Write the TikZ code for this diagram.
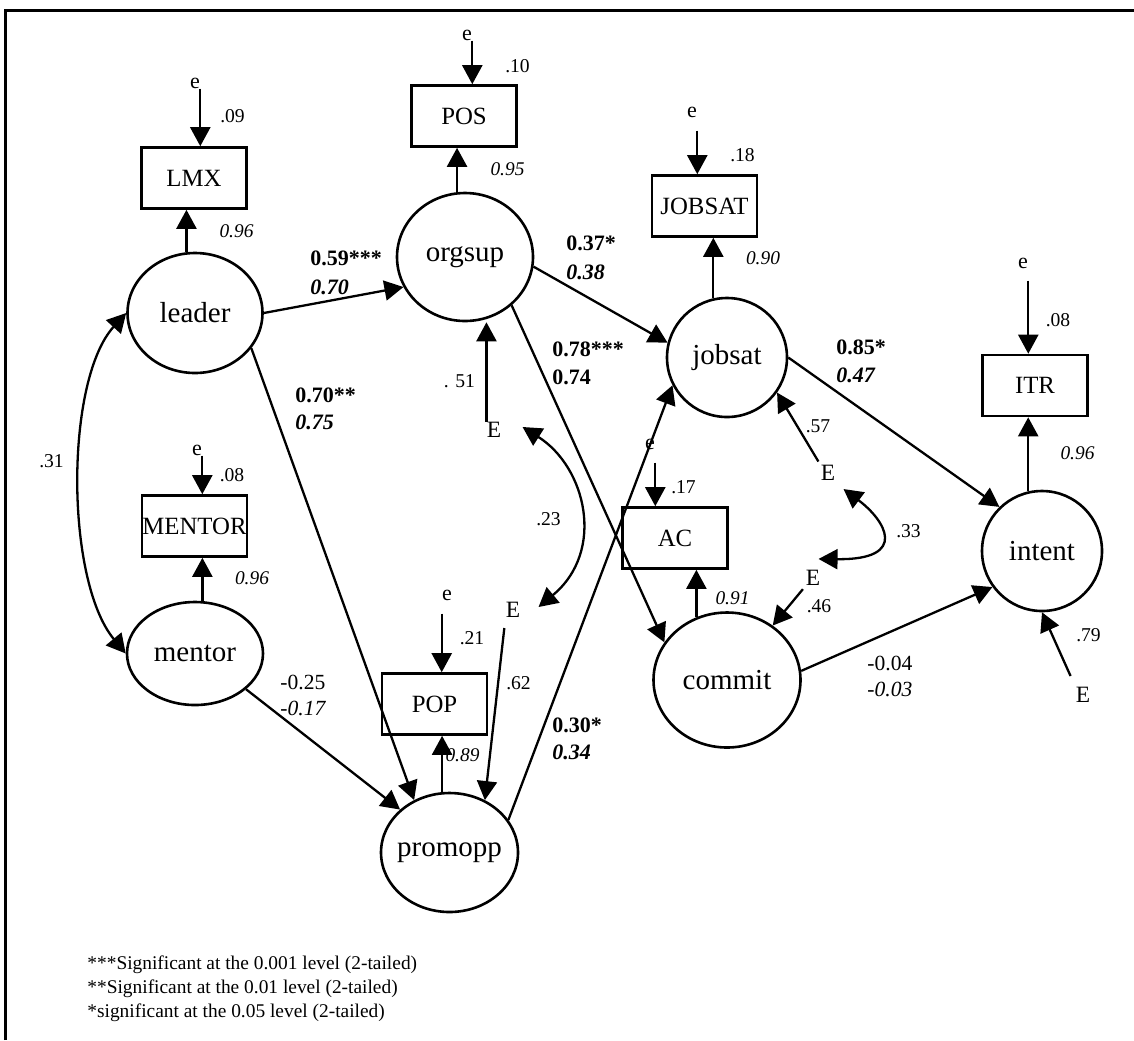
\documentclass[tikz,border=0pt]{standalone}
\usepackage{fontspec}
\setmainfont{Liberation Serif}
\usetikzlibrary{arrows.meta,shapes.geometric}

\tikzset{
    latent/.style={ellipse, draw, line width=1.3pt, inner sep=0pt},
    lbl/.style={inner sep=0pt, font=\fontsize{14.5}{17}\selectfont},
    manifest/.style={rectangle, draw, line width=1.3pt, inner sep=0pt,
        minimum width=52.5pt, minimum height=30.5pt, font=\fontsize{12.4}{15}\selectfont},
    err/.style={inner sep=0pt, font=\fontsize{11}{13}\selectfont},
    dist/.style={inner sep=0pt, font=\fontsize{11.7}{14}\selectfont},
    arr/.style={-{Triangle[length=9.5pt,width=10pt]}, line width=1.15pt},
    both/.style={{Triangle[length=9.5pt,width=10pt]}-{Triangle[length=9.5pt,width=10pt]}, line width=1.15pt},
    num/.style={inner sep=0pt, font=\fontsize{9.8}{12}\selectfont},
    load/.style={inner sep=0pt, font=\fontsize{9.7}{12}\selectfont\itshape},
    coef/.style={inner sep=0pt, anchor=west, align=left, font=\fontsize{11}{14.5}\selectfont\bfseries},
    plain/.style={inner sep=0pt, anchor=west, align=left, font=\fontsize{10.8}{13}\selectfont},
    note/.style={inner sep=0pt, anchor=west, align=left, font=\fontsize{9.7}{12}\selectfont}
}

\begin{document}
\begin{tikzpicture}[x=0.5pt, y=-0.5pt]
    \useasboundingbox (0,0) rectangle (1134,1040);
    % frame
    \draw[line width=1.5pt] (5,1040) -- (5,10) -- (1134,10);

    % latent variables
    \node[latent, minimum width=67.5pt, minimum height=60pt, label={[lbl]center:leader}] (leader) at (195,313) {};
    \node[latent, minimum width=68pt, minimum height=64pt, label={[lbl]center:orgsup}] (orgsup) at (465,257) {};
    \node[latent, minimum width=68pt, minimum height=51.5pt, label={[lbl]center:mentor}] (mentor) at (195,653.5) {};
    \node[latent, minimum width=68.5pt, minimum height=59.5pt, label={[lbl]center:promopp}] (promopp) at (449.5,852.5) {};
    \node[latent, minimum width=60pt, minimum height=59.5pt, label={[lbl]center:jobsat}] (jobsat) at (727,357.5) {};
    \node[latent, minimum width=73.5pt, minimum height=67.5pt, label={[lbl]center:commit}] (commit) at (727,680) {};
    \node[latent, minimum width=60pt, minimum height=60pt, label={[lbl]center:intent}] (intent) at (1042,551) {};

    % indicators
    \node[manifest] (LMX) at (194,178) {LMX};
    \node[manifest] (POS) at (464,116) {POS};
    \node[manifest] (JOBSAT) at (704.5,206) {JOBSAT};
    \node[manifest] (ITR) at (1035,385.5) {ITR};
    \node[manifest] (AC) at (675,538) {AC};
    \node[manifest] (MENTOR) at (194.5,526) {MENTOR};
    \node[manifest] (POP) at (434.5,704) {POP};

    % error terms
    \node[err] (eLMX) at (195,83) {e};
    \node[err] (ePOS) at (467,35) {e};
    \node[err] (eJOBSAT) at (692,112) {e};
    \node[err] (eITR) at (1023,263) {e};
    \node[err] (eAC) at (650,444) {e};
    \node[err] (eMENTOR) at (197,450) {e};
    \node[err] (ePOP) at (447,595) {e};

    \node[dist] (Eorg) at (494,430) {E};
    \node[dist] (Epro) at (513,610) {E};
    \node[dist] (Ejob) at (828,473) {E};
    \node[dist] (Ecom) at (813,578) {E};
    \node[dist] (Eint) at (1083,695) {E};

    % measurement paths
    \draw[arr] (leader.98) -- (leader.98 |- LMX.south);
    \draw[arr] (orgsup.97) -- (orgsup.97 |- POS.south);
    \draw[arr] (jobsat.103) -- (jobsat.103 |- JOBSAT.south);
    \draw[arr] (intent.103) -- (intent.103 |- ITR.south);
    \draw[arr] (commit.116) -- (commit.116 |- AC.south);
    \draw[arr] (mentor.82) -- (mentor.82 |- MENTOR.south);
    \draw[arr] (promopp.97) -- (promopp.97 |- POP.south);

    \draw[arr] (eLMX.south east) -- (eLMX.south east |- LMX.north);
    \draw[arr] (ePOS.south east) -- (ePOS.south east |- POS.north);
    \draw[arr] (eMENTOR.south east) -- (eMENTOR.south east |- MENTOR.north);
    \draw[arr, shorten <=6.5pt] (eJOBSAT.south east) -- (eJOBSAT.south east |- JOBSAT.north);
    \draw[arr, shorten <=6pt] (eITR.south east) -- (eITR.south east |- ITR.north);
    \draw[arr, shorten <=6.5pt] (eAC.south east) -- (eAC.south east |- AC.north);
    \draw[arr, shorten <=6.5pt] (ePOP.south west) -- (ePOP.south west |- POP.north);

    % disturbances
    \draw[arr] (Eorg.north west) -- (Eorg.north west |- orgsup.south);
    \draw[arr, shorten <=5pt] (Epro.south west) -- (promopp.56);
    \draw[arr, shorten <=2pt] (Ejob.north west) -- (jobsat.325);
    \draw[arr, shorten <=2pt] (Ecom.south west) -- (commit.50);
    \draw[arr, shorten <=6pt] (Eint.north west) -- (intent.south);

    % structural paths
    \draw[arr] (leader.east) -- (orgsup.206);
    \draw[arr] (orgsup.352) -- (jobsat.166);
    \draw[arr] (orgsup.314) -- (commit.149);
    \draw[arr] (leader.328) -- (promopp.124);
    \draw[arr] (mentor.325) -- (promopp.139);
    \draw[arr] (promopp.29) -- (jobsat.207);
    \draw[arr] (jobsat.east) -- (intent.134);
    \draw[arr] (commit.7) -- (intent.216);

    % covariances
    \draw[both] (leader.west) .. controls (65,380) and (65,580) .. (mentor.west);
    \draw[both] ([shift={(21,-3)}]Eorg.east) .. controls (586,467) and (606,551) .. ([shift={(18,-3)}]Epro.east);
    \draw[both] ([shift={(8,8)}]Ejob.south east) .. controls (885,520) and (910,560) .. ([shift={(-2,-11)}]Ecom.north east);

    % estimates
    \node[num] (vLMX) at (232.5,116) {.09};
    \node[load] (lLMX) at (236.5,231) {0.96};
    \node[num] (vPOS) at (517.5,66) {.10};
    \node[load] (lPOS) at (507.5,169) {0.95};
    \node[num] (vJOBSAT) at (742.5,155) {.18};
    \node[load] (lJOBSAT) at (763,258.5) {0.90};
    \node[num] (vITR) at (1058,320) {.08};
    \node[load] (lITR) at (1077.5,453.5) {0.96};
    \node[num] (vMENTOR) at (232,475) {.08};
    \node[load] (lMENTOR) at (252,578) {0.96};
    \node[num] (vPOP) at (472,638) {.21};
    \node[load] (lPOP) at (462.5,755) {0.89};
    \node[num] (vAC) at (683.5,487) {.17};
    \node[load] (lAC) at (732.5,598.5) {0.91};

    \node[num] (dorg) at (459.5,381) {. 51};
    \node[num] (dpro) at (518.5,683.5) {.62};
    \node[num] (djob) at (818,426.5) {.57};
    \node[num] (dcom) at (819,606) {.46};
    \node[num] (dint) at (1088.5,635) {.79};
    \node[num] (c31) at (51.5,461.5) {.31};
    \node[num] (c23) at (548.5,519.5) {.23};
    \node[num] (c33) at (908.5,531.5) {.33};

    \node[coef] (b1) at (310,272.5) {0.59***\\\textit{0.70}};
    \node[coef, font=\fontsize{11}{13.5}\selectfont\bfseries] (b2) at (295,408.5) {0.70**\\\textit{0.75}};
    \node[coef] (b3) at (566,257.5) {0.37*\\\textit{0.38}};
    \node[coef, font=\fontsize{11}{14}\selectfont\bfseries] (b4) at (552,363) {0.78***\\0.74};
    \node[coef, font=\fontsize{11}{14}\selectfont\bfseries] (b5) at (836,361) {0.85*\\\textit{0.47}};
    \node[coef, font=\fontsize{11}{13.5}\selectfont\bfseries] (b6) at (552,738.5) {0.30*\\\textit{0.34}};
    \node[plain] (b7) at (280,695) {-0.25\\\textit{-0.17}};
    \node[plain] (b8) at (867,676) {-0.04\\\textit{-0.03}};

    % footnotes
    \node[note] (notes) at (87,989) {***Significant at the 0.001 level (2-tailed)\\**Significant at the 0.01 level (2-tailed)\\*significant at the 0.05 level (2-tailed)};
\end{tikzpicture}
\end{document}
